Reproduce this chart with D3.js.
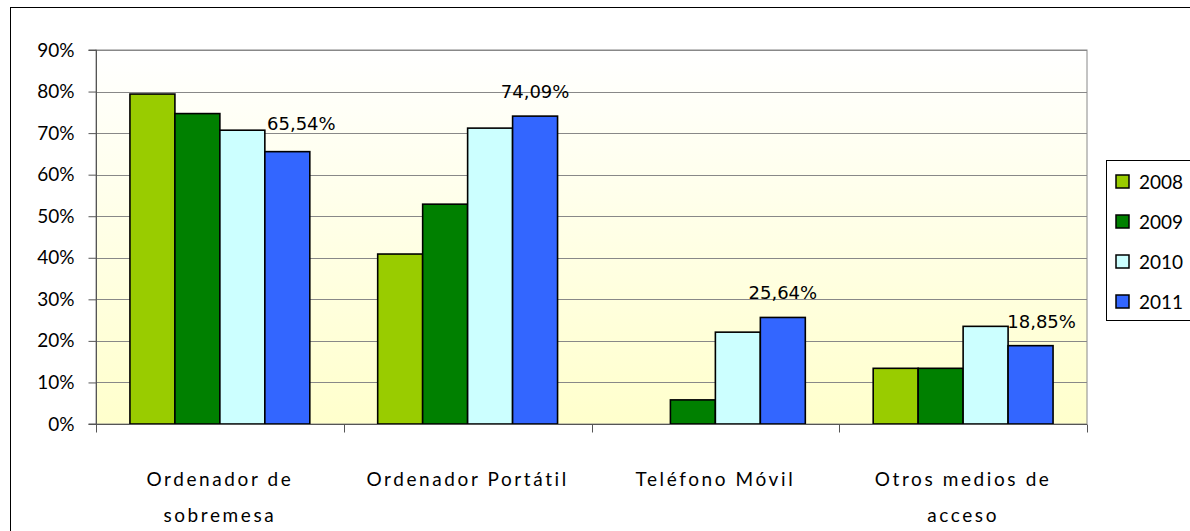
<!DOCTYPE html>
<html><head><meta charset="utf-8">
<script src="https://cdn.jsdelivr.net/npm/d3@7"></script>
<style>
html,body{margin:0;padding:0;background:#fff;}
svg{display:block;}
</style></head>
<body>
<svg id="chart" width="1190" height="531"></svg>
<script>
// ---- data ----
const categories = [["Ordenador de","sobremesa"],["Ordenador Portátil"],["Teléfono Móvil"],["Otros medios de","acceso"]];
const years = ["2008","2009","2010","2011"];
const v2008 = [79.4, 40.9, 0, 13.4];
const v2009 = [74.7, 52.9, 5.8, 13.4];
const v2010 = [70.7, 71.2, 22.1, 23.5];
const v2011 = [65.54, 74.09, 25.64, 18.85];
const yTicks = [0,10,20,30,40,50,60,70,80,90];
const labelText = ["65,54%","74,09%","25,64%","18,85%"];

// ---- style / layout ----
const colors = ["#99CC00","#008000","#CCFFFF","#3366FF"];
const labelNudge = [[14,-4],[0,0],[0,0],[11,0]];
const series = [v2008, v2009, v2010, v2011];
const M = {left:96, right:1087, top:50, bottom:424};

const svg = d3.select("#chart");
const defs = svg.append("defs");
const grad = defs.append("linearGradient").attr("id","bg").attr("x1",0).attr("y1",0).attr("x2",0).attr("y2",1);
grad.append("stop").attr("offset","0%").attr("stop-color","#FFFFFF");
grad.append("stop").attr("offset","100%").attr("stop-color","#FFFFCC");

// outer frame
svg.append("rect").attr("x",10.5).attr("y",7.5).attr("width",1200).attr("height",600)
  .attr("fill","#fff").attr("stroke","#000").attr("stroke-width",1);

const x0 = d3.scaleBand().domain(d3.range(categories.length)).range([M.left, M.right]).padding(0);
const gap = x0.bandwidth()*0.274;
const x1 = d3.scaleBand().domain(d3.range(years.length)).range([gap/2, x0.bandwidth()-gap/2]).padding(0);
const y = d3.scaleLinear().domain([0,90]).range([M.bottom, M.top]);

// plot background
svg.append("rect").attr("x",M.left).attr("y",M.top).attr("width",M.right-M.left).attr("height",M.bottom-M.top)
  .attr("fill","url(#bg)").attr("stroke","#888").attr("stroke-width",1);

// gridlines
svg.append("g").selectAll("line").data(yTicks.filter(d=>d>0)).join("line")
  .attr("x1",M.left).attr("x2",M.right)
  .attr("y1",d=>Math.round(y(d))+0.5).attr("y2",d=>Math.round(y(d))+0.5)
  .attr("stroke","#888").attr("stroke-width",1);

// bars
const gBars = svg.append("g");
categories.forEach((c,i)=>{
  series.forEach((s,j)=>{
    const v = s[i];
    if (v <= 0) return;
    gBars.append("rect")
      .attr("x", x0(i)+x1(j))
      .attr("y", y(v))
      .attr("width", x1.bandwidth())
      .attr("height", y(0)-y(v))
      .attr("fill", colors[j]).attr("stroke","#000").attr("stroke-width",1.6);
  });
});

// y axis
const yAxis = d3.axisLeft(y).tickValues(yTicks).tickFormat(d=>d+"%").tickSize(8).tickPadding(14);
const gy = svg.append("g").attr("transform",`translate(${M.left+0.5},0)`).call(yAxis);
gy.select(".domain").attr("stroke","#555").attr("d",`M-8,${M.top}H0V${M.bottom}H-8`);
gy.selectAll(".tick line").attr("stroke","#555");
gy.selectAll("text").attr("font-family","Lato, 'Open Sans', sans-serif").attr("font-size",19).attr("fill","#000");

// x axis
const gx = svg.append("g").attr("transform",`translate(0,${M.bottom+0.5})`);
gx.append("line").attr("x1",M.left).attr("x2",M.right).attr("stroke","#555");
const bounds = d3.range(categories.length+1).map(i=> i<categories.length ? x0(i) : M.right);
gx.selectAll("line.tk").data(bounds).join("line").attr("class","tk")
  .attr("x1",d=>Math.round(d)+0.5).attr("x2",d=>Math.round(d)+0.5).attr("y1",0).attr("y2",8).attr("stroke","#555");

// category labels
categories.forEach((lines,i)=>{
  const cx = x0(i)+x0.bandwidth()/2;
  lines.forEach((t,k)=>{
    svg.append("text").attr("x",cx).attr("y",486+k*36).attr("text-anchor","middle")
      .attr("font-family","Lato, 'Open Sans', sans-serif").attr("font-size",19)
      .attr("letter-spacing","2.6px").attr("fill","#000").text(t);
  });
});

// data labels (2011 series)
v2011.forEach((v,i)=>{
  svg.append("text")
    .attr("x", x0(i)+x1(3)+x1.bandwidth()/2 + labelNudge[i][0])
    .attr("y", y(v)-18 + labelNudge[i][1])
    .attr("text-anchor","middle")
    .attr("font-family","'DejaVu Sans', sans-serif").attr("font-size",18).attr("fill","#000")
    .text(labelText[i]);
});

// legend
const lg = svg.append("g");
lg.append("rect").attr("x",1106.5).attr("y",160.5).attr("width",120).attr("height",160)
  .attr("fill","#fff").attr("stroke","#000").attr("stroke-width",1);
years.forEach((yr,j)=>{
  const cy = 182 + j*40;
  lg.append("rect").attr("x",1116).attr("y",cy-7).attr("width",13).attr("height",13)
    .attr("fill",colors[j]).attr("stroke","#000").attr("stroke-width",1.5);
  lg.append("text").attr("x",1139).attr("y",cy+7).attr("font-family","Lato, 'Open Sans', sans-serif")
    .attr("font-size",19).attr("fill","#000").text(yr);
});
</script>
</body></html>
